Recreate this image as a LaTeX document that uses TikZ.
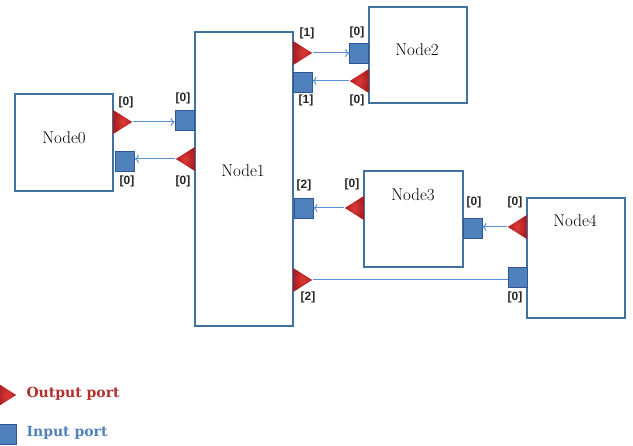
\documentclass[tikz,border=0pt]{standalone}
\usepackage{fontspec}
\newfontfamily\portfont{Liberation Sans}
\newfontfamily\legfont{DejaVu Serif}
\usetikzlibrary{shapes.geometric,arrows.meta}
\definecolor{boxblue}{HTML}{41719C}
\definecolor{inblue}{HTML}{4F81BD}
\definecolor{inedge}{HTML}{2F5597}
\definecolor{linkblue}{HTML}{5B8FD6}
\definecolor{outred}{HTML}{DE3A35}
\definecolor{outdark}{HTML}{A81E22}
\definecolor{legred}{HTML}{B0302E}

\begin{document}
\begin{tikzpicture}[x=1pt,y=-1pt,
  box/.style={draw=boxblue,line width=1.3pt,fill=white,inner sep=0pt},
  inport/.style={draw=inedge,line width=0.8pt,fill=inblue,minimum width=19pt,minimum height=20pt,inner sep=0pt},
  outport/.style={isosceles triangle,isosceles triangle stretches,minimum width=24pt,minimum height=19pt,inner sep=0pt,inner color=outred,outer color=outdark},
  plabel/.style={font=\portfont\bfseries\fontsize{12}{12}\selectfont,text=black!85},
  nlabel/.style={font=\fontsize{17}{17}\selectfont},
  link/.style={draw=linkblue,line width=1pt},
  >={To[length=4pt,width=8pt]}]
\useasboundingbox (0,0) rectangle (633,446);

\node[box,minimum width=98pt,minimum height=97pt] (N0) at (64,142.5) {};
\node[box,minimum width=98pt,minimum height=294pt] (N1) at (244,179) {};
\node[box,minimum width=98pt,minimum height=96pt] (N2) at (418,55) {};
\node[box,minimum width=99pt,minimum height=96pt] (N3) at (413.5,219) {};
\node[box,minimum width=98pt,minimum height=120pt] (N4) at (576,258) {};

\node[nlabel] (L0) at (64,138) {Node0};
\node[nlabel] (L1) at (243,171) {Node1};
\node[nlabel] (L2) at (417,50) {Node2};
\node[nlabel] (L3) at (413,195) {Node3};
\node[nlabel] (L4) at (575,221) {Node4};

% output ports
\node[outport,anchor=lower side] (o00) at (113,122) {};
\node[outport,rotate=180,anchor=lower side] (o10) at (195,159) {};
\node[outport,anchor=lower side] (o11) at (293,53) {};
\node[outport,anchor=lower side] (o12) at (293,280) {};
\node[outport,rotate=180,anchor=lower side] (o20) at (369,81) {};
\node[outport,rotate=180,anchor=lower side] (o30) at (364,208) {};
\node[outport,rotate=180,anchor=lower side] (o40) at (527,227) {};

% input ports
\node[inport] (i00) at (125,161) {};
\node[inport] (i10) at (184.5,120) {};
\node[inport] (i11) at (302.5,82) {};
\node[inport] (i12) at (303.5,208) {};
\node[inport] (i20) at (359,53) {};
\node[inport] (i30) at (472.5,228) {};
\node[inport] (i40) at (517.5,277) {};

% links
\draw[link,->] (o00.apex) -- (o00.apex -| i10.west);
\draw[link,->] (o10.apex) -- (o10.apex -| i00.east);
\draw[link,->] (o11.apex) -- (o11.apex -| i20.west);
\draw[link,->] (o20.apex) -- (o20.apex -| i11.east);
\draw[link,->] (o30.apex) -- (o30.apex -| i12.east);
\draw[link,->] (o40.apex) -- (o40.apex -| i30.east);
\draw[link] (o12.apex) -- (o12.apex -| i40.west);

% port numbers
\node[plabel] (p1) at (126,102) {[0]};
\node[plabel] (p2) at (183,98) {[0]};
\node[plabel] (p3) at (127,181) {[0]};
\node[plabel] (p4) at (183,181) {[0]};
\node[plabel] (p5) at (307,33) {[1]};
\node[plabel] (p6) at (357,32) {[0]};
\node[plabel] (p7) at (306,100) {[1]};
\node[plabel] (p8) at (357,100) {[0]};
\node[plabel] (p9) at (304,185) {[2]};
\node[plabel] (p10) at (352,184) {[0]};
\node[plabel] (p11) at (474,202) {[0]};
\node[plabel] (p12) at (515,202) {[0]};
\node[plabel] (p13) at (308,297) {[2]};
\node[plabel] (p14) at (515,297) {[0]};

% legend
\node[outport,anchor=lower side] (lo) at (-3,395) {};
\node[inport,minimum width=19pt] (li) at (6.5,434) {};
\node[anchor=west,font=\legfont\bfseries\fontsize{14}{14}\selectfont,text=legred] (lot) at (23,394) {Output port};
\node[anchor=west,font=\legfont\bfseries\fontsize{14}{14}\selectfont,text=inblue] (lit) at (23,433) {Input port};
\end{tikzpicture}
\end{document}
